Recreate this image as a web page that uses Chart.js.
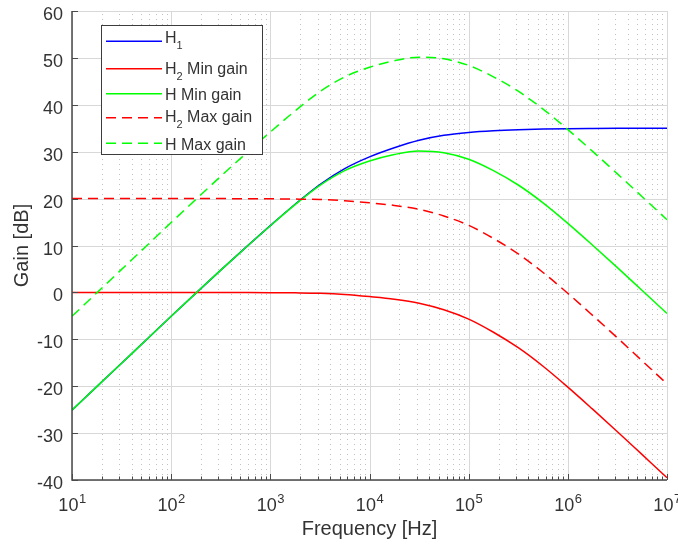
<!DOCTYPE html>
<html lang="es">
<head>
<meta charset="utf-8">
<title>Gain [dB] vs Frequency [Hz]</title>
<script src="https://cdn.jsdelivr.net/npm/chart.js@4/dist/chart.umd.min.js"></script>
<style>
  html, body { margin: 0; padding: 0; background: #fff; }
  canvas { display: block; }
</style>
</head>
<body>
<canvas id="grafica" width="678" height="546"></canvas>
<script>
// === DATOS (cada 1/4 de decada) ===
const frecuencias = [10, 17.78, 31.62, 56.23, 100, 177.8, 316.2, 562.3, 1000, 1778, 3162, 5623,
  1e4, 17783, 31623, 56234, 1e5, 177828, 316228, 562341, 1e6, 1778279, 3162278, 5623413, 1e7];

const h1 = [-25.1, -20.1, -15.1, -10.1, -5.1, -0.15, 4.75, 9.55, 14.25, 18.8, 23.0, 26.4,
  28.9, 30.85, 32.45, 33.5, 34.1, 34.47, 34.7, 34.84, 34.92, 34.96, 34.98, 34.99, 35.0];
const h2Min = [0, 0, 0, 0, 0, 0, 0, -0.02, -0.05, -0.1, -0.2, -0.45,
  -0.9, -1.45, -2.3, -3.7, -5.7, -8.5, -11.8, -15.75, -20.2, -24.9, -29.7, -34.6, -39.5];
const hMin = [-25.1, -20.1, -15.1, -10.1, -5.1, -0.15, 4.75, 9.53, 14.2, 18.7, 22.8, 25.95,
  28.0, 29.4, 30.15, 29.8, 28.4, 25.97, 22.9, 19.09, 14.72, 10.06, 5.28, 0.39, -4.5];
const h2Max = [20, 20, 20, 20, 20, 20, 20, 19.98, 19.95, 19.9, 19.8, 19.55,
  19.1, 18.55, 17.7, 16.3, 14.3, 11.5, 8.2, 4.25, -0.2, -4.9, -9.7, -14.6, -19.5];
const hMax = [-5.1, -0.1, 4.9, 9.9, 14.9, 19.85, 24.75, 29.53, 34.2, 38.7, 42.8, 45.95,
  48.0, 49.4, 50.15, 49.8, 48.4, 45.97, 42.9, 39.09, 34.72, 30.06, 25.28, 20.39, 15.5];

const exponentesX = [1, 2, 3, 4, 5, 6, 7];
const ticksY = [-40, -30, -20, -10, 0, 10, 20, 30, 40, 50, 60];

// etiquetas de la leyenda (H con subindice)
const leyenda = [
  { base: "H", sub: "1", resto: "" },
  { base: "H", sub: "2", resto: " Min gain" },
  { base: "H Min gain", sub: "", resto: "" },
  { base: "H", sub: "2", resto: " Max gain" },
  { base: "H Max gain", sub: "", resto: "" }
];

const TEXTO = "#333333";
const FUENTE = "'Liberation Sans', Arial, sans-serif";

const serie = (valores, color, discontinua, orden) => ({
  data: frecuencias.map((f, i) => ({ x: f, y: valores[i] })),
  borderColor: color,
  borderWidth: 1.5,
  borderDash: discontinua ? [10, 6] : [],
  fill: false,
  pointRadius: 0,
  cubicInterpolationMode: "monotone",
  order: orden
});

const datasets = [
  serie(h1, "#0000ff", false, 5),
  serie(h2Min, "#ff0000", false, 4),
  serie(hMin, "#00ff00", false, 3),
  serie(h2Max, "#ff0000", true, 2),
  serie(hMax, "#00ff00", true, 1)
];

// === REJILLA, EJES Y TEXTOS ===
const ejes = {
  id: "ejes",
  beforeDatasetsDraw(chart) {
    const { ctx, chartArea: a, scales: { x, y } } = chart;
    ctx.save();
    ctx.lineWidth = 1;

    // rejilla menor punteada
    ctx.strokeStyle = "#c2c2c2";
    ctx.setLineDash([1, 4]);
    exponentesX.slice(0, -1).forEach(e => {
      for (let m = 2; m <= 9; m++) {
        const px = Math.round(x.getPixelForValue(m * 10 ** e)) + 0.5;
        ctx.beginPath();
        ctx.moveTo(px, a.bottom);
        ctx.lineTo(px, a.top);
        ctx.stroke();
      }
    });

    // rejilla mayor
    ctx.setLineDash([]);
    ctx.strokeStyle = "#d8d8d8";
    exponentesX.forEach(e => {
      const px = Math.round(x.getPixelForValue(10 ** e)) + 0.5;
      ctx.beginPath();
      ctx.moveTo(px, a.bottom);
      ctx.lineTo(px, a.top);
      ctx.stroke();
    });
    ticksY.forEach(v => {
      const py = Math.round(y.getPixelForValue(v)) + 0.5;
      ctx.beginPath();
      ctx.moveTo(a.left, py);
      ctx.lineTo(a.right, py);
      ctx.stroke();
    });
    ctx.restore();
  },
  afterDatasetsDraw(chart) {
    const { ctx, chartArea: a, scales: { x, y } } = chart;
    ctx.save();

    // ejes
    ctx.strokeStyle = "#4a4a4a";
    ctx.lineWidth = 1.5;
    ctx.beginPath();
    ctx.moveTo(a.left, a.top);
    ctx.lineTo(a.left, a.bottom);
    ctx.lineTo(a.right, a.bottom);
    ctx.stroke();

    // marcas hacia dentro
    ctx.lineWidth = 1;
    exponentesX.forEach(e => {
      const px = Math.round(x.getPixelForValue(10 ** e)) + 0.5;
      ctx.beginPath();
      ctx.moveTo(px, a.bottom);
      ctx.lineTo(px, a.bottom - 6);
      ctx.stroke();
      if (e < 7) {
        for (let m = 2; m <= 9; m++) {
          const pm = Math.round(x.getPixelForValue(m * 10 ** e)) + 0.5;
          ctx.beginPath();
          ctx.moveTo(pm, a.bottom);
          ctx.lineTo(pm, a.bottom - 3.5);
          ctx.stroke();
        }
      }
    });
    ticksY.forEach(v => {
      const py = Math.round(y.getPixelForValue(v)) + 0.5;
      ctx.beginPath();
      ctx.moveTo(a.left, py);
      ctx.lineTo(a.left + 6, py);
      ctx.stroke();
    });

    // etiquetas del eje y
    ctx.fillStyle = TEXTO;
    ctx.font = `18px ${FUENTE}`;
    ctx.textAlign = "right";
    ctx.textBaseline = "alphabetic";
    ticksY.forEach(v => {
      ctx.fillText(String(v), a.left - 9, y.getPixelForValue(v) + 9);
    });

    // etiquetas del eje x: 10 con exponente
    ctx.textAlign = "left";
    exponentesX.forEach(e => {
      const px = x.getPixelForValue(10 ** e);
      ctx.font = `18px ${FUENTE}`;
      const anchoBase = ctx.measureText("10").width;
      ctx.font = `13px ${FUENTE}`;
      const anchoExp = ctx.measureText(String(e)).width;
      const inicio = px - (anchoBase + anchoExp) / 2;
      ctx.font = `18px ${FUENTE}`;
      ctx.fillText("10", inicio, a.bottom + 31);
      ctx.font = `13px ${FUENTE}`;
      ctx.fillText(String(e), inicio + anchoBase + 0.5, a.bottom + 22.5);
    });

    // titulos de ejes
    ctx.font = `20px ${FUENTE}`;
    ctx.textAlign = "center";
    ctx.fillText("Frequency [Hz]", (a.left + a.right) / 2, 535);
    ctx.save();
    ctx.translate(22, (a.top + a.bottom) / 2);
    ctx.rotate(-Math.PI / 2);
    ctx.textBaseline = "middle";
    ctx.fillText("Gain [dB]", 0, 0);
    ctx.restore();

    // === LEYENDA ===
    ctx.fillStyle = "#ffffff";
    ctx.fillRect(101.5, 25.5, 161, 129);
    ctx.strokeStyle = "#3c3c3c";
    ctx.lineWidth = 1;
    ctx.strokeRect(101.5, 25.5, 161, 129);

    const filasLinea = [41.3, 68.7, 93.7, 117.7, 143.3];
    const filasTexto = [43.3, 74, 100, 121.7, 150];
    leyenda.forEach((et, i) => {
      const ds = datasets[i];
      ctx.strokeStyle = ds.borderColor;
      ctx.lineWidth = 1.5;
      ctx.setLineDash(ds.borderDash);
      ctx.beginPath();
      ctx.moveTo(106, filasLinea[i]);
      ctx.lineTo(162, filasLinea[i]);
      ctx.stroke();
      ctx.setLineDash([]);

      ctx.fillStyle = TEXTO;
      ctx.textAlign = "left";
      ctx.textBaseline = "alphabetic";
      let cx = 165;
      ctx.font = `16px ${FUENTE}`;
      ctx.fillText(et.base, cx, filasTexto[i]);
      cx += ctx.measureText(et.base).width;
      if (et.sub) {
        ctx.font = `11px ${FUENTE}`;
        ctx.fillText(et.sub, cx, filasTexto[i] + 6);
        cx += ctx.measureText(et.sub).width;
      }
      if (et.resto) {
        ctx.font = `16px ${FUENTE}`;
        ctx.fillText(et.resto, cx, filasTexto[i]);
      }
    });
    ctx.restore();
  }
};

// === GRAFICA ===
new Chart(document.getElementById("grafica").getContext("2d"), {
  type: "line",
  data: { datasets },
  options: {
    responsive: false,
    animation: false,
    layout: { padding: { left: 72, right: 11, top: 11, bottom: 66 } },
    plugins: { legend: { display: false }, tooltip: { enabled: false } },
    scales: {
      x: { type: "logarithmic", min: 10, max: 1e7, display: false },
      y: { type: "linear", min: -40, max: 60, display: false }
    }
  },
  plugins: [ejes]
});
</script>
</body>
</html>
